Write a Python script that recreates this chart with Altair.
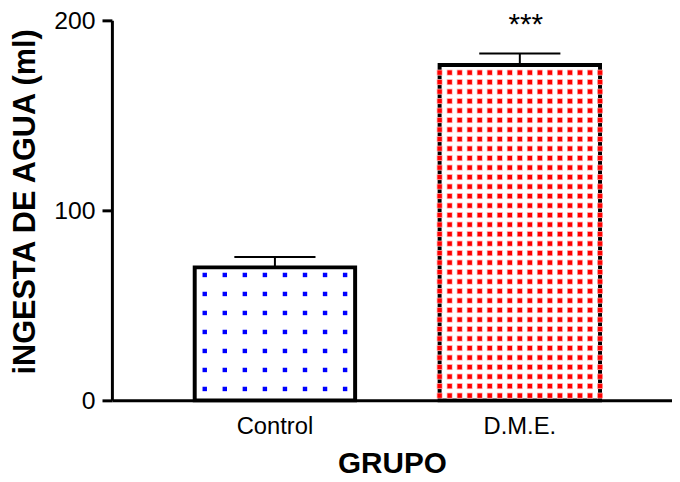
import altair as alt
import numpy as np
import pandas as pd

# ---- data ----
groups = ["Control", "D.M.E."]
means = [70.0, 176.5]
upper = [75.5, 182.5]          # mean + SEM
signif = ["", "***"]

y_ticks = [0, 100, 200]

df = pd.DataFrame({"group": groups, "mean": means, "hi": upper, "sig": signif})

# ---- fill texture (decorative pattern inside the bars, in data units) ----
N_SUB = 17
tex_rows = []
for col in range(1, N_SUB, 2):                       # sparse blue dots (Control)
    for yv in np.arange(6.0, means[0] - 2.0, 10.0):
        tex_rows.append({"group": groups[0], "col": col, "y": float(yv)})
tex_ctrl = pd.DataFrame(tex_rows)
tex_rows = []
for col in range(0, N_SUB):                          # dense red checks (D.M.E.)
    for yv in np.arange(2.5, means[1] - 2.0, 5.0):
        tex_rows.append({"group": groups[1], "col": col, "y": float(yv)})
tex_dme = pd.DataFrame(tex_rows)

FONT = "Liberation Sans"
Y_TITLE = "iNGESTA DE AGUA (ml)"
X_TITLE = "GRUPO"

xscale = alt.Scale(domain=groups, paddingInner=0.345, paddingOuter=0.316, align=0.535)
yscale = alt.Scale(domain=[0, 200], nice=False)

xaxis = alt.Axis(labelAngle=0, ticks=False, tickSize=0, labelPadding=15,
                 labelFontSize=24, titleFontSize=30, titleFontWeight="bold",
                 titlePadding=10, domainWidth=3, domainColor="black",
                 labelColor="black", titleColor="black", grid=False)
yaxis = alt.Axis(values=y_ticks, tickSize=10, tickWidth=3, tickColor="black",
                 domainWidth=3, domainColor="black", labelFontSize=25,
                 labelPadding=7, labelColor="black", titleFontSize=31,
                 titleFontWeight="bold", titlePadding=13, titleY=183,
                 titleColor="black", grid=False)


def X():
    return alt.X("group:N", scale=xscale, axis=xaxis, title=X_TITLE, sort=groups)


def Yf(field):
    return alt.Y(field, scale=yscale, axis=yaxis, title=Y_TITLE)


def OFF():
    return alt.XOffset("col:O", scale=alt.Scale(domain=list(range(N_SUB)),
                                                paddingInner=0, paddingOuter=0))


bars = alt.Chart(df).mark_bar(fill="white", stroke="black", strokeWidth=4).encode(
    x=X(), y=Yf("mean:Q"))

dots_c = alt.Chart(tex_ctrl).mark_square(size=20, color="#0000ff", opacity=1,
                                         strokeWidth=0).encode(
    x=X(), xOffset=OFF(), y=Yf("y:Q"))

dots_d_halo = alt.Chart(tex_dme).mark_square(size=36, color="#ffb3b3", opacity=1,
                                             strokeWidth=0).encode(
    x=X(), xOffset=OFF(), y=Yf("y:Q"))

dots_d = alt.Chart(tex_dme).mark_square(size=20, color="#ff0000", opacity=1,
                                        strokeWidth=0).encode(
    x=X(), xOffset=OFF(), y=Yf("y:Q"))

err = alt.Chart(df).mark_rule(color="black", strokeWidth=2).encode(
    x=X(), y=Yf("mean:Q"), y2="hi:Q")

cap = alt.Chart(df).mark_tick(color="black", size=82, thickness=2, opacity=1).encode(
    x=X(), y=Yf("hi:Q"))

stars = alt.Chart(df).mark_text(fontSize=30, font=FONT, color="black", dx=6, dy=-20,
                                baseline="alphabetic").encode(
    x=X(), y=Yf("hi:Q"), text="sig:N")

chart = alt.layer(bars, dots_c, dots_d_halo, dots_d, err, cap, stars).resolve_scale(
    xOffset="independent"
).properties(
    width=566, height=384,
    autosize=alt.AutoSizeParams(type="none"),
    padding={"left": 105, "top": 10, "right": 0, "bottom": 79},
).configure(font=FONT).configure_axis(labelFont=FONT, titleFont=FONT).configure_view(
    stroke=None)

chart.save("out.html", embed_options={"renderer": "svg", "actions": False})
